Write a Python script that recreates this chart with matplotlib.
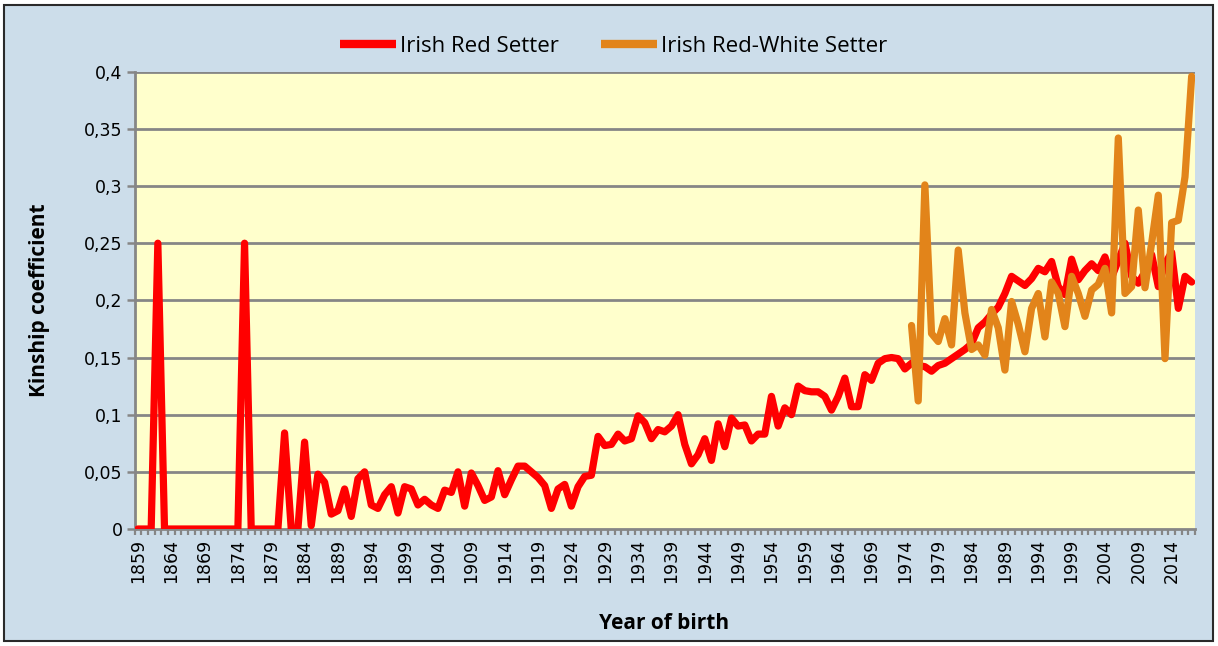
import matplotlib
matplotlib.use("Agg")
import matplotlib.pyplot as plt
from matplotlib.patches import Rectangle
from matplotlib.ticker import FixedLocator, FuncFormatter
import numpy as np

# ---------------- data ----------------
red_years = list(range(1859, 2018))
red_values = [
    # 1859-1868
    0, 0, 0, 0.25, 0, 0, 0, 0, 0, 0,
    # 1869-1878
    0, 0, 0, 0, 0, 0, 0.25, 0, 0, 0,
    # 1879-1888
    0, 0, 0.084, 0, 0, 0.076, 0.003, 0.048, 0.041, 0.013,
    # 1889-1898
    0.016, 0.035, 0.011, 0.044, 0.050, 0.021, 0.018, 0.030, 0.037, 0.014,
    # 1899-1908
    0.037, 0.035, 0.021, 0.026, 0.021, 0.018, 0.034, 0.032, 0.050, 0.020,
    # 1909-1918
    0.049, 0.038, 0.025, 0.028, 0.051, 0.030, 0.043, 0.055, 0.055, 0.050,
    # 1919-1928
    0.045, 0.038, 0.018, 0.035, 0.039, 0.020, 0.037, 0.046, 0.047, 0.081,
    # 1929-1938
    0.073, 0.074, 0.083, 0.077, 0.079, 0.099, 0.093, 0.079, 0.087, 0.085,
    # 1939-1948
    0.090, 0.100, 0.074, 0.057, 0.065, 0.079, 0.060, 0.092, 0.072, 0.097,
    # 1949-1958
    0.090, 0.091, 0.077, 0.083, 0.083, 0.116, 0.090, 0.106, 0.100, 0.125,
    # 1959-1968
    0.121, 0.120, 0.120, 0.116, 0.104, 0.116, 0.132, 0.107, 0.107, 0.135,
    # 1969-1978
    0.130, 0.145, 0.149, 0.150, 0.149, 0.140, 0.145, 0.143, 0.142, 0.138,
    # 1979-1988
    0.143, 0.145, 0.149, 0.153, 0.157, 0.162, 0.176, 0.181, 0.188, 0.194,
    # 1989-1998
    0.206, 0.221, 0.217, 0.213, 0.219, 0.228, 0.225, 0.234, 0.212, 0.205,
    # 1999-2008
    0.236, 0.218, 0.226, 0.232, 0.226, 0.238, 0.220, 0.235, 0.250, 0.221,
    # 2009-2017
    0.215, 0.225, 0.240, 0.212, 0.232, 0.242, 0.193, 0.221, 0.216,
]

orange_years = list(range(1975, 2018))
orange_values = [
    0.178, 0.112, 0.301, 0.171, 0.164, 0.184, 0.161, 0.244, 0.189, 0.157,
    0.161, 0.152, 0.192, 0.176, 0.139, 0.199, 0.179, 0.155, 0.193, 0.206,
    0.168, 0.216, 0.206, 0.177, 0.221, 0.206, 0.186, 0.209, 0.214, 0.228,
    0.189, 0.342, 0.206, 0.212, 0.279, 0.211, 0.250, 0.292, 0.149, 0.268,
    0.270, 0.308, 0.396,
]

series_labels = ["Irish Red Setter", "Irish Red-White Setter"]
y_ticks = [0, 0.05, 0.1, 0.15, 0.2, 0.25, 0.3, 0.35, 0.4]
x_label_years = list(range(1859, 2015, 5))

# ---------------- figure ----------------
W, H = 1218, 646
fig = plt.figure(figsize=(W / 100, H / 100), dpi=100, facecolor="white")

# outer chart panel
panel = Rectangle((4 / W, 5 / H), (1213 - 4) / W, (641 - 5) / H,
                  transform=fig.transFigure, facecolor="#CCDDEA",
                  edgecolor="#2a2a2a", linewidth=1.5, zorder=-10)
fig.patches.append(panel)

left, right, top, bottom = 134.5, 1195, 71.7, 529
ax = fig.add_axes([left / W, 1 - bottom / H, (right - left) / W, (bottom - top) / H])
ax.set_zorder(1)
ax.set_facecolor("#FFFFCC")

grid_c = "#868686"
for yv in y_ticks[1:]:
    ax.axhline(yv, color=grid_c, lw=2.0, zorder=1)

red_c = "#FF0000"
orange_c = "#E2841A"
ax.plot(red_years, red_values, color=red_c, lw=5.2, solid_joinstyle="round",
        solid_capstyle="round", label=series_labels[0], zorder=3)
ax.plot(orange_years, orange_values, color=orange_c, lw=5.2, solid_joinstyle="round",
        solid_capstyle="round", label=series_labels[1], zorder=4)

ax.set_xlim(1858.5, 2017.5)
ax.set_ylim(0, 0.4)

for s in ["top", "right"]:
    ax.spines[s].set_visible(False)
for s in ["left", "bottom"]:
    ax.spines[s].set_color(grid_c)
    ax.spines[s].set_linewidth(2.0)

ax.set_yticks(y_ticks)
ax.yaxis.set_major_formatter(FuncFormatter(
    lambda v, p: "0" if v == 0 else ("%g" % round(v, 2)).replace(".", ",")))
ax.tick_params(axis="y", direction="out", length=5.5, width=1.8, color=grid_c,
               labelsize=12.5, pad=3, labelcolor="black")

ax.xaxis.set_major_locator(FixedLocator(x_label_years))
ax.set_xticklabels([str(y) for y in x_label_years], rotation=90)
ax.xaxis.set_minor_locator(FixedLocator(np.arange(1858.5, 2018.0, 1.0)))
ax.tick_params(axis="x", which="major", length=0, labelsize=12.5, pad=7, labelcolor="black")
ax.tick_params(axis="x", which="minor", direction="out", length=4.5, width=1.6, color=grid_c)

for t in ax.get_xticklabels() + ax.get_yticklabels():
    t.set_family(["DejaVu Sans"])

ax.set_ylabel("Kinship coefficient", fontsize=15, fontweight="bold",
              family=["Open Sans", "DejaVu Sans"])
ax.yaxis.set_label_coords((50 - left) / (right - left), 0.5)
ax.set_xlabel("Year of birth", fontsize=15, fontweight="bold",
              family=["Open Sans", "DejaVu Sans"])
ax.xaxis.set_label_coords((664 - left) / (right - left), -(613 - bottom) / (bottom - top))

leg = fig.legend(loc="center", bbox_to_anchor=(614 / W, 1 - 46 / H), ncol=2, frameon=False,
                 prop={"family": ["Open Sans", "DejaVu Sans"], "size": 16},
                 handlelength=2.5, handletextpad=0.2, columnspacing=1.9)
for line in leg.get_lines():
    line.set_linewidth(6)
    line.set_solid_capstyle("butt")

fig.savefig("out.png", dpi=100, facecolor=fig.get_facecolor())
